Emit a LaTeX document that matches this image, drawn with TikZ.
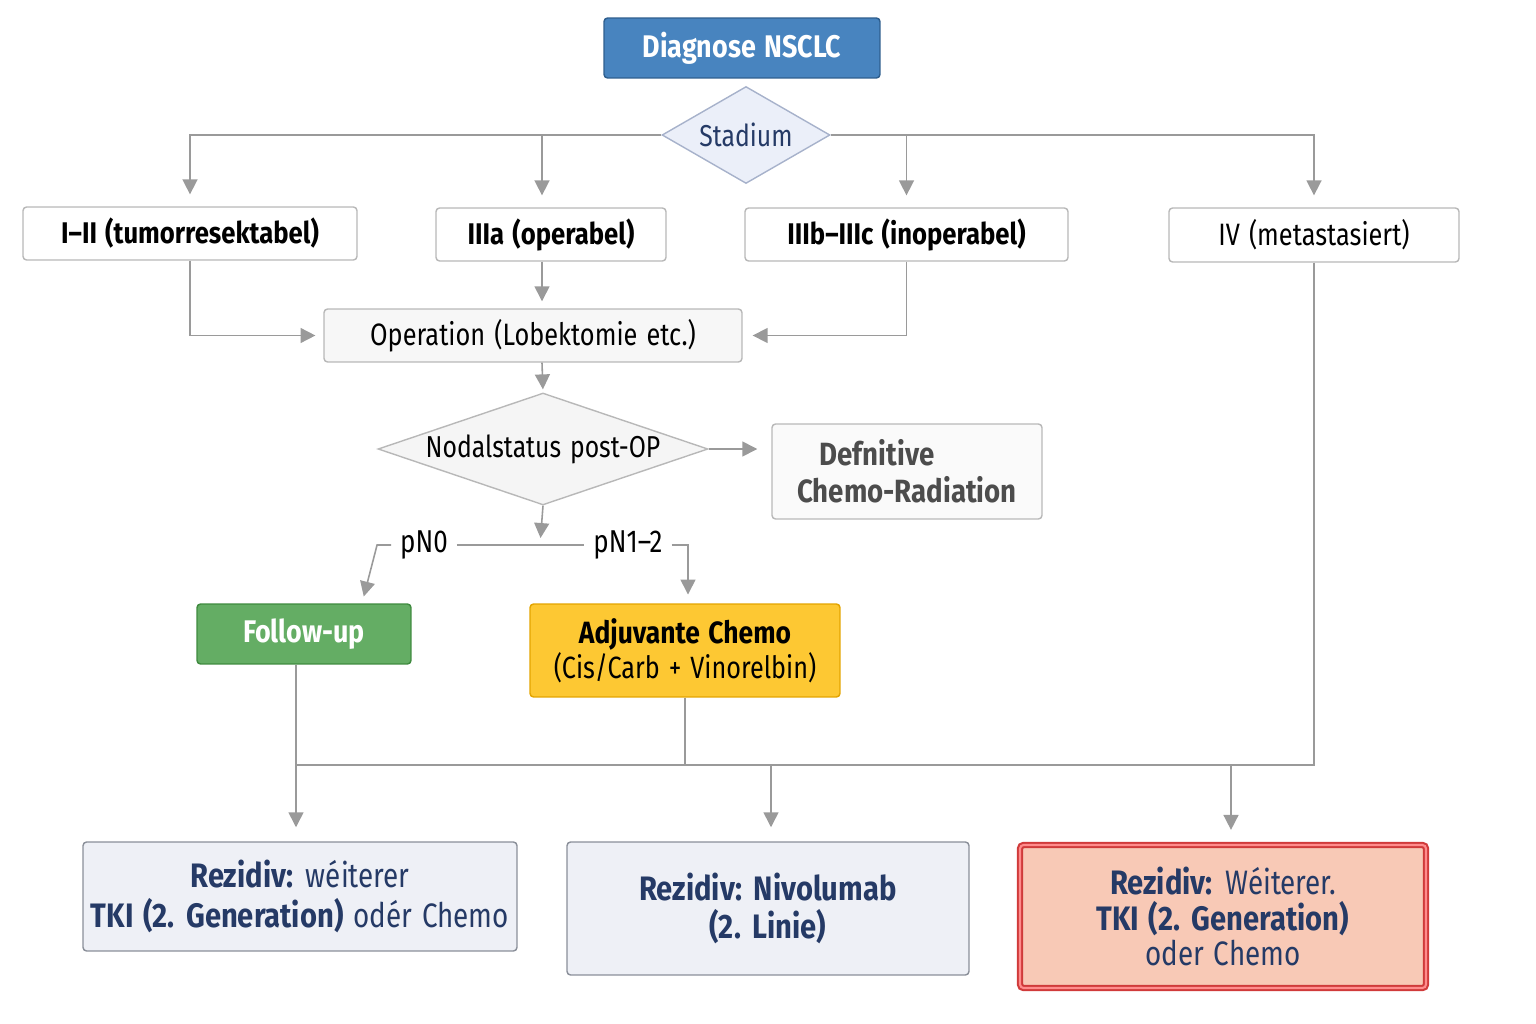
\documentclass[tikz,border=0pt]{standalone}
\usepackage{fontspec}
\setmainfont[FakeStretch=0.82, WordSpace=1.35, BoldFeatures={FakeStretch=0.86}]{Fira Sans}
\usetikzlibrary{shapes.geometric,arrows.meta,calc}
\definecolor{linegray}{HTML}{9A9A9A}
\definecolor{boxgray}{HTML}{B8B8B8}
\definecolor{navy}{HTML}{253A66}
\definecolor{diagblue}{HTML}{4884BF}
\definecolor{diagedge}{HTML}{2E5E8E}
\definecolor{stadfill}{HTML}{EBEFF9}
\definecolor{stadedge}{HTML}{A7B2CB}
\definecolor{okgreen}{HTML}{64AD64}
\definecolor{okedge}{HTML}{3F8A3F}
\definecolor{chemoyel}{HTML}{FDC833}
\definecolor{chemoedge}{HTML}{E3A400}
\definecolor{rezfill}{HTML}{EEF0F6}
\definecolor{rezedge}{HTML}{8A8F99}
\definecolor{redfill}{HTML}{F8C9B6}
\definecolor{rededge}{HTML}{D03A3A}
\tikzset{
  box/.style={draw=boxgray, fill=white, rounded corners=2pt, line width=0.8pt,
    align=center, inner sep=0pt, font=\fontsize{17.6}{20}\selectfont},
  stage/.style={box, font=\fontsize{17}{20}\selectfont\bfseries},
  rezbox/.style={box, fill=rezfill, draw=rezedge, text=navy,
    font=\fontsize{19.3}{22.7}\selectfont},
  decision/.style={diamond, draw=boxgray, fill=black!4, line width=0.8pt,
    inner sep=0pt, font=\fontsize{17.2}{20}\selectfont},
  lbl/.style={inner sep=5pt, font=\fontsize{18}{20}\selectfont},
  ln/.style={draw=linegray, line width=0.9pt},
  arr/.style={ln, -{Triangle[length=8.5pt,width=8.5pt]}},
}
\begin{document}
\begin{tikzpicture}[x=0.02cm, y=-0.02cm]
\useasboundingbox (0,0) rectangle (1536,1024);
\node[box, fill=diagblue, draw=diagedge, text=white, minimum width=5.52cm, minimum height=1.2cm,
  font=\fontsize{17.8}{20}\selectfont\bfseries] (diag) at (742,48) {Diagnose NSCLC};
\node[decision, fill=stadfill, draw=stadedge, text=navy, aspect=1.73,
  minimum width=3.36cm, minimum height=1.94cm] (stad) at (746,135) {Stadium};
\node[stage, minimum width=6.68cm, minimum height=1.06cm] (b12) at (190,233.5) {I--II (tumorresektabel)};
\node[stage, minimum width=4.6cm, minimum height=1.06cm] (b3a) at (551,234.5) {IIIa (operabel)};
\node[stage, minimum width=6.46cm, minimum height=1.06cm] (b3b) at (906.5,234.5) {IIIb--IIIc (inoperabel)};
\node[box, minimum width=5.8cm, minimum height=1.08cm] (b4) at (1314,235) {IV (metastasiert)};
\node[box, fill=black!3, minimum width=8.36cm, minimum height=1.06cm] (op) at (533,335.5) {Operation (Lobektomie etc.)};
\node[decision, aspect=2.95, minimum width=6.6cm, minimum height=2.24cm] (nodal) at (543,449) {Nodalstatus post-OP};
\node[box, fill=black!2, text=black!70, align=left, minimum width=5.4cm, minimum height=1.9cm,
  font=\fontsize{18.3}{21}\selectfont\bfseries] (defn) at (907,471.5) {\hspace{0.7em}Defnitive\\Chemo-Radiation};
\node[lbl] (pnull) at (424,545) {pN0};
\node[lbl] (pnone) at (628,545) {pN1--2};
\coordinate (split) at (540,545);
\node[box, fill=okgreen, draw=okedge, text=white, minimum width=4.28cm, minimum height=1.2cm,
  font=\fontsize{17.8}{20}\selectfont\bfseries] (follow) at (304,634) {Follow-up};
\node[box, fill=chemoyel, draw=chemoedge, minimum width=6.2cm, minimum height=1.86cm,
  font=\fontsize{17.5}{19.8}\selectfont] (adj) at (685,650.5) {\textbf{Adjuvante Chemo}\\(Cis/Carb + Vinorelbin)};
\node[rezbox, minimum width=8.68cm, minimum height=2.18cm] (r1) at (300,896.5)
  {\textbf{Rezidiv:} wéiterer\\\textbf{TKI (2. Generation)} odér Chemo};
\node[rezbox, minimum width=8.04cm, minimum height=2.66cm, font=\fontsize{19.3}{22}\selectfont\bfseries] (r2) at (768,908.5)
  {Rezidiv: Nivolumab\\(2. Linie)};
\node[rezbox, fill=redfill, draw=rededge, line width=1.2pt, double=red!45, double distance=1.2pt,
  minimum width=8.12cm, minimum height=2.86cm, font=\fontsize{19.3}{20.4}\selectfont] (r3) at (1223,916.5)
  {\textbf{Rezidiv:} Wéiterer.\\\textbf{TKI (2. Generation)}\\oder Chemo};
\coordinate (busL) at (296,765);
\coordinate (opin) at ($(b3a.south)+(-9,0)$);
\draw[arr, shorten >=6.8pt] (stad.west) -| (b12.north);
\draw[arr, shorten >=6.8pt] (stad.west) -| ($(b3a.north)+(-9,0)$);
\draw[arr, shorten >=6.8pt] (stad.east) -| (b3b.north);
\draw[arr, shorten >=6.8pt] (stad.east) -| (b4.north);
\draw[arr, shorten >=4.5pt] (b12.south) |- (op.west);
\draw[arr, shorten >=4pt] (opin) -- (opin |- op.north);
\draw[arr, shorten >=5.7pt] (b3b.south) |- (op.east);
\draw[arr, shorten >=1.7pt] ($(op.south)+(9,0)$) -- (nodal.north);
\draw[arr, shorten >=8pt] (nodal.east) -- (nodal.east -| defn.west);
\draw[arr, shorten >=4pt] (nodal.south) -- (split);
\draw[ln] (pnull) -- (pnone);
\draw[arr, shorten >=4pt] (pnull.west) -- ++(-14,0) -- ($(follow.north)+(58,0)$);
\draw[arr, shorten >=5pt] (pnone.east) -- ++(13,0) -| ($(adj.north)+(3,0)$);
\draw[ln] ($(follow.south)+(-8,0)$) -- (busL);
\draw[ln] (adj.south) -- (adj.south |- busL);
\draw[ln] (b4.south) |- (busL);
\draw[arr, shorten >=8pt] (busL) -- (busL |- r1.north);
\draw[arr, shorten >=8pt] ($(r2.north |- busL)+(3,0)$) -- ($(r2.north)+(3,0)$);
\draw[arr, shorten >=8pt] ($(r3.north |- busL)+(8,0)$) -- ($(r3.north)+(8,0)$);
\end{tikzpicture}
\end{document}
